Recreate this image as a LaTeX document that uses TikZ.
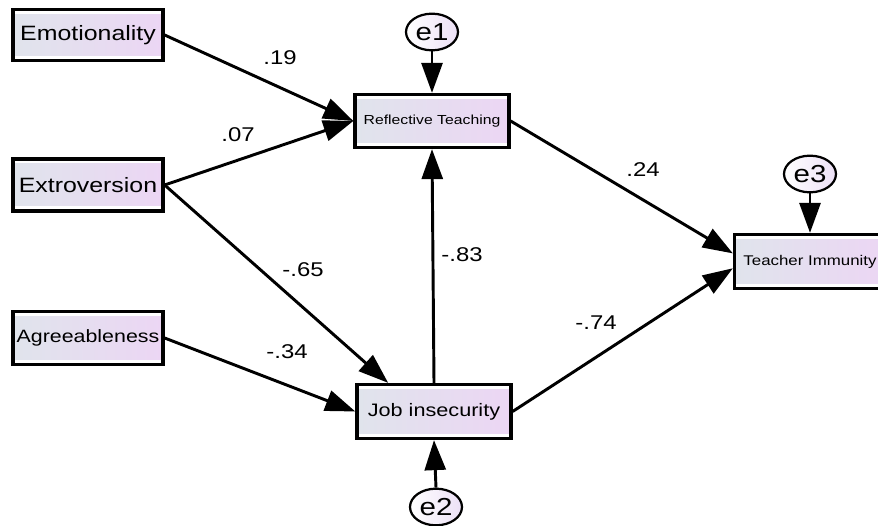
\documentclass[tikz,border=0pt]{standalone}
\usepackage{fontspec}
\setmainfont{Liberation Sans}[FakeStretch=1.2]
\usetikzlibrary{arrows.meta,shapes.geometric}

\definecolor{boxL}{RGB}{224,228,236}
\definecolor{boxR}{RGB}{236,214,244}
\definecolor{errR}{RGB}{236,224,246}

\tikzset{
  obs/.style={draw, line width=2.8pt, fill=white, inner sep=0pt,
    path picture={\shade[left color=boxL,right color=boxR]
      ([yshift=-1.5mm]path picture bounding box.north west) rectangle
      ([yshift=1.5mm]path picture bounding box.south east);}},
  err/.style={draw, ellipse, line width=1.9pt, left color=white, right color=errR,
    minimum width=15.6mm, minimum height=11mm, inner sep=0pt,
    font=\fontsize{21}{24}\selectfont},
  arr/.style={line width=2.5pt, -{Triangle[length=9mm,width=6.3mm]}},
  coef/.style={font=\fontsize{17}{20}\selectfont}
}

\begin{document}
\begin{tikzpicture}[x=0.3mm,y=-0.3mm]
  \useasboundingbox (0,0) rectangle (878,526);
  \clip (0,0) rectangle (878,526);

  % exogenous variables
  \node[obs, minimum width=45mm, minimum height=15.3mm, font=\fontsize{17.7}{20}\selectfont] (emo) at (88,35) {Emotionality};
  \node[obs, minimum width=45mm, minimum height=15.6mm, font=\fontsize{17.7}{20}\selectfont] (ext) at (88,185) {Extroversion};
  \node[obs, minimum width=45mm, minimum height=16mm, font=\fontsize{15.2}{18}\selectfont] (agr) at (88,338) {Agreeableness};

  % mediators and outcome
  \node[obs, minimum width=46.2mm, minimum height=15.9mm, font=\fontsize{11.2}{13}\selectfont] (rt) at (432,121) {Reflective Teaching};
  \node[obs, minimum width=46.2mm, minimum height=16.2mm, font=\fontsize{15.4}{18}\selectfont] (job) at (434,411.5) {Job insecurity};
  \node[obs, minimum width=45.3mm, minimum height=16.2mm, font=\fontsize{12}{14}\selectfont] (ti) at (810,261.5) {Teacher Immunity};

  % error terms
  \node[err] (e1) at (432,32) {e1};
  \node[err] (e2) at (436,507) {e2};
  \node[err] (e3) at (810,174) {e3};

  % paths
  \draw[arr] (emo.east) -- (rt.west);
  \draw[arr] (ext.east) -- (rt.west);
  \draw[arr] (ext.east) -- (job.148);
  \draw[arr] (agr.east) -- (job.west);
  \draw[arr] (job.north) -- (rt.south);
  \draw[arr] (rt.east) -- (ti.174);
  \draw[arr] (job.east) -- (ti.185);
  \draw[arr] (e1.south) -- (rt.north);
  \draw[arr] (e2.north) -- (job.south);
  \draw[arr] (e3.south) -- (ti.north);

  % coefficients
  \node[coef] (c19) at (280,58) {.19};
  \node[coef] (c07) at (238,135) {.07};
  \node[coef] (c65) at (303,270) {-.65};
  \node[coef] (c34) at (287,352) {-.34};
  \node[coef] (c83) at (462,255) {-.83};
  \node[coef] (c24) at (643,170) {.24};
  \node[coef] (c74) at (596,323) {-.74};
\end{tikzpicture}
\end{document}
